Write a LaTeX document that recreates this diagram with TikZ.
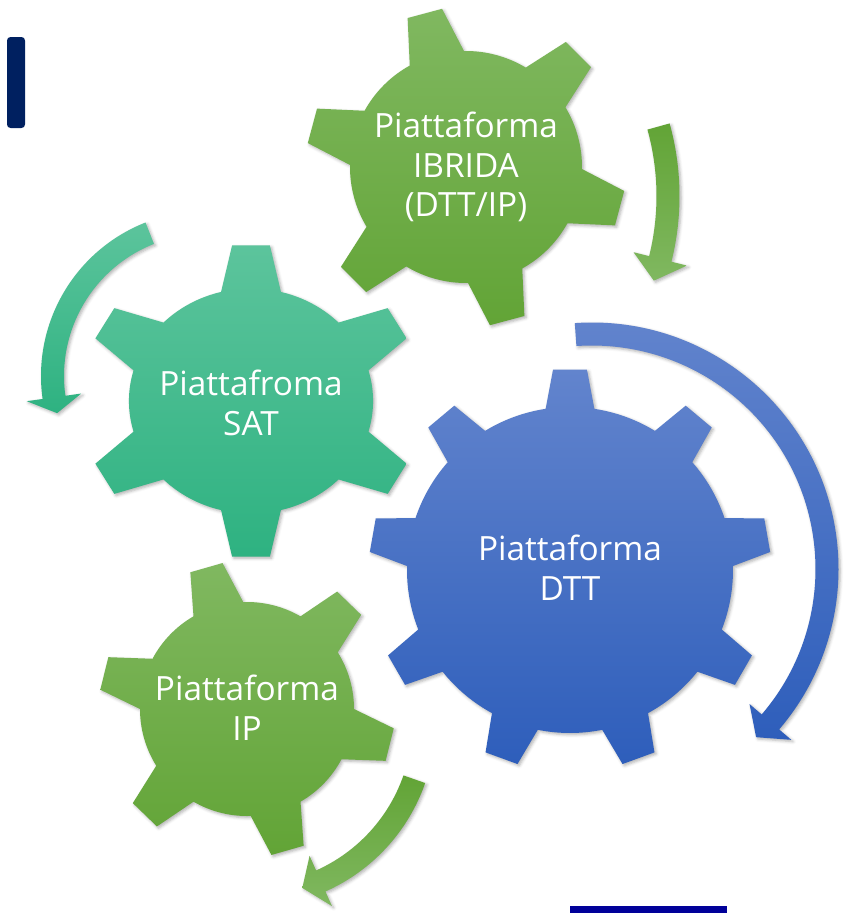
\documentclass[tikz,border=0pt]{standalone}
\usepackage{fontspec}
\setsansfont{Open Sans}
\usetikzlibrary{shadows.blur}
\definecolor{dttTop}{RGB}{98,132,205}
\definecolor{dttBot}{RGB}{46,94,187}
\definecolor{grnTop}{RGB}{128,184,96}
\definecolor{grnBot}{RGB}{98,164,54}
\definecolor{satTop}{RGB}{92,196,156}
\definecolor{satBot}{RGB}{46,178,129}
\definecolor{navybar}{RGB}{0,32,96}
\definecolor{bluebar}{RGB}{0,0,153}
\newcommand\bandw{11.5}
\newcommand\headw{27.5}
% #1 teeth, #2 rotation, #3 outer radius, #4 body radius, #5 tip half angle, #6 base half angle
\newcommand\gearpath[6]{({#2-#6}:#4) \foreach \k in {1,...,#1}{ -- ({#2+(\k-1)*360/#1-#5}:#3) -- ({#2+(\k-1)*360/#1+#5}:#3) -- ({#2+(\k-1)*360/#1+#6}:#4) arc[start angle={#2+(\k-1)*360/#1+#6}, end angle={#2+\k*360/#1-#6}, radius=#4]} -- cycle}
% #1 mid radius, #2 start angle, #3 end angle, #4 head length (angle)
\newcommand\arcarrow[4]{({#2}:{#1+\bandw}) arc[start angle={#2}, end angle={#3}, radius={#1+\bandw}] -- ({#3}:{#1+\headw}) -- ({#3+#4}:#1) -- ({#3}:{#1-\headw}) -- ({#3}:{#1-\bandw}) arc[start angle={#3}, end angle={#2}, radius={#1-\bandw}] -- cycle}
\tikzset{
  gearlabel/.style={text=white, align=center, inner sep=0pt, font=\sffamily\fontsize{28.5}{34}\selectfont},
  softshadow/.style={blur shadow={shadow xshift=1.5pt, shadow yshift=-1.5pt, shadow blur radius=2.5pt, shadow opacity=30}},
  dttshade/.style={top color=dttTop, bottom color=dttBot},
  grnshade/.style={top color=grnTop, bottom color=grnBot},
  satshade/.style={top color=satTop, bottom color=satBot},
  grnarrow/.style={top color=grnBot, bottom color=grnTop}
}
\begin{document}
\begin{tikzpicture}[x=0.03cm, y=-0.03cm]
\useasboundingbox (0,0) rectangle (863,913);
% bars
\fill[navybar, rounded corners=3] (7,37) rectangle (25,128);
\fill[bluebar] (570,906) rectangle (727,913);

% arrows
\path[satshade, softshadow, shift={(206,376)}] \arcarrow{153.5}{-111.5}{-188}{-6};
\path[grnarrow, softshadow, shift={(408,196)}] \arcarrow{260}{-15.5}{14}{5};
\path[dttshade, softshadow, shift={(592,569)}] \arcarrow{235}{-94}{40.6}{5.1};
\path[grnarrow, softshadow, shift={(250,722)}] \arcarrow{174}{19.2}{66}{6.5};

% gears
\path[satshade, softshadow, shift={(251,401)}, xscale=1.085] \gearpath{6}{90}{156.5}{112.5}{6.4}{14.2};
\path[grnshade, softshadow, shift={(466,167)}] \gearpath{6}{15}{160}{116}{6.4}{14};
\path[grnshade, softshadow, shift={(247,709)}] \gearpath{6}{14}{148}{107}{6.5}{14};
\path[dttshade, softshadow, shift={(570,570)}] \gearpath{9}{-90}{201}{163}{4.85}{8.6};

\node[gearlabel] (ibrida) at (466,167) {Piattaforma\\IBRIDA\\(DTT/IP)};
\node[gearlabel] (sat) at (251,403) {Piattafroma\\SAT};
\node[gearlabel] (dtt) at (570,568) {Piattaforma\\DTT};
\node[gearlabel] (ip) at (247,708) {Piattaforma\\IP};
\end{tikzpicture}
\end{document}
